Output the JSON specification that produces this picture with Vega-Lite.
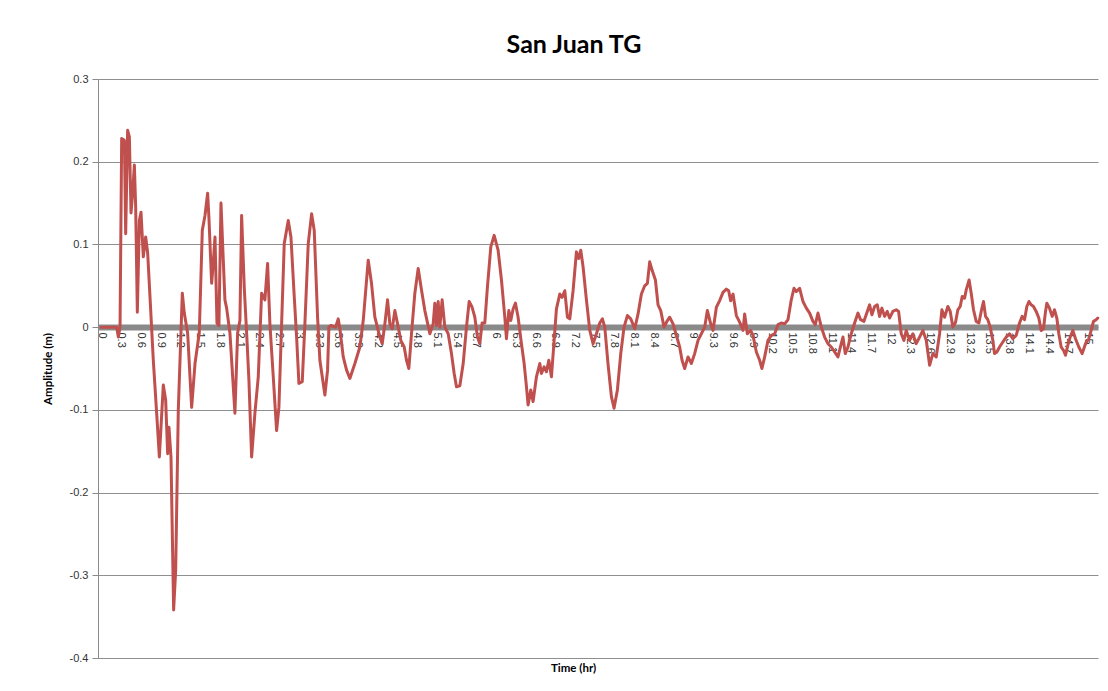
{
  "$schema": "https://vega.github.io/schema/vega-lite/v6.json",
  "width": 1000,
  "height": 579,
  "autosize": {"type": "none"},
  "padding": {"left": 98, "top": 79, "right": 10, "bottom": 33},
  "background": "white",
  "config": {"view": {"stroke": null}, "font": "Lato"},
  "title": {"text": "San Juan TG", "font": "Lato", "fontSize": 25, "fontWeight": "bold", "color": "#000000", "anchor": "middle", "baseline": "alphabetic", "dx": -24, "dy": 32, "offset": 27},
  "data": {"values": [
    {"t": 0, "v": 0}, {"t": 0.1, "v": 0}, {"t": 0.238, "v": 0}, {"t": 0.263, "v": -0.012}, {"t": 0.289, "v": 0.0},
    {"t": 0.314, "v": 0.228}, {"t": 0.355, "v": 0.226}, {"t": 0.375, "v": 0.113}, {"t": 0.405, "v": 0.238}, {"t": 0.431, "v": 0.23},
    {"t": 0.456, "v": 0.138}, {"t": 0.481, "v": 0.162}, {"t": 0.507, "v": 0.196}, {"t": 0.527, "v": 0.145}, {"t": 0.552, "v": 0.018},
    {"t": 0.583, "v": 0.129}, {"t": 0.608, "v": 0.139}, {"t": 0.643, "v": 0.085}, {"t": 0.679, "v": 0.109}, {"t": 0.709, "v": 0.09},
    {"t": 0.745, "v": 0.036}, {"t": 0.795, "v": -0.04}, {"t": 0.846, "v": -0.104}, {"t": 0.887, "v": -0.157}, {"t": 0.947, "v": -0.07},
    {"t": 0.983, "v": -0.088}, {"t": 1.013, "v": -0.153}, {"t": 1.033, "v": -0.121}, {"t": 1.064, "v": -0.157}, {"t": 1.104, "v": -0.342},
    {"t": 1.135, "v": -0.294}, {"t": 1.175, "v": -0.1}, {"t": 1.236, "v": 0.041}, {"t": 1.266, "v": 0.017}, {"t": 1.317, "v": -0.007},
    {"t": 1.378, "v": -0.097}, {"t": 1.429, "v": -0.044}, {"t": 1.494, "v": -0.007}, {"t": 1.54, "v": 0.117}, {"t": 1.581, "v": 0.135},
    {"t": 1.621, "v": 0.162}, {"t": 1.641, "v": 0.132}, {"t": 1.682, "v": 0.053}, {"t": 1.707, "v": 0.078}, {"t": 1.733, "v": 0.109},
    {"t": 1.763, "v": 0.005}, {"t": 1.793, "v": 0.002}, {"t": 1.824, "v": 0.15}, {"t": 1.859, "v": 0.081}, {"t": 1.884, "v": 0.033},
    {"t": 1.91, "v": 0.023}, {"t": 1.96, "v": -0.007}, {"t": 2.036, "v": -0.104}, {"t": 2.077, "v": -0.007}, {"t": 2.112, "v": 0.008},
    {"t": 2.138, "v": 0.135}, {"t": 2.178, "v": 0.048}, {"t": 2.214, "v": -0.007}, {"t": 2.249, "v": -0.064}, {"t": 2.29, "v": -0.157},
    {"t": 2.34, "v": -0.104}, {"t": 2.391, "v": -0.06}, {"t": 2.442, "v": 0.041}, {"t": 2.492, "v": 0.033}, {"t": 2.533, "v": 0.077},
    {"t": 2.568, "v": 0.004}, {"t": 2.619, "v": -0.06}, {"t": 2.67, "v": -0.125}, {"t": 2.705, "v": -0.097}, {"t": 2.746, "v": 0.004},
    {"t": 2.786, "v": 0.101}, {"t": 2.847, "v": 0.129}, {"t": 2.888, "v": 0.109}, {"t": 2.938, "v": 0.037}, {"t": 2.974, "v": -0.012},
    {"t": 3.009, "v": -0.068}, {"t": 3.06, "v": -0.066}, {"t": 3.1, "v": 0.004}, {"t": 3.151, "v": 0.101}, {"t": 3.202, "v": 0.137},
    {"t": 3.242, "v": 0.117}, {"t": 3.293, "v": 0.012}, {"t": 3.328, "v": -0.04}, {"t": 3.364, "v": -0.06}, {"t": 3.404, "v": -0.082},
    {"t": 3.445, "v": -0.052}, {"t": 3.465, "v": 0.0}, {"t": 3.495, "v": 0.002}, {"t": 3.566, "v": 0.0}, {"t": 3.607, "v": 0.01},
    {"t": 3.632, "v": -0.002}, {"t": 3.683, "v": -0.036}, {"t": 3.734, "v": -0.052}, {"t": 3.784, "v": -0.062}, {"t": 3.86, "v": -0.044},
    {"t": 3.936, "v": -0.024}, {"t": 3.987, "v": 0.008}, {"t": 4.063, "v": 0.081}, {"t": 4.113, "v": 0.053}, {"t": 4.164, "v": 0.012},
    {"t": 4.24, "v": -0.012}, {"t": 4.276, "v": -0.02}, {"t": 4.316, "v": 0.004}, {"t": 4.357, "v": 0.033}, {"t": 4.392, "v": 0.004},
    {"t": 4.428, "v": -0.002}, {"t": 4.468, "v": 0.02}, {"t": 4.509, "v": 0.004}, {"t": 4.559, "v": -0.016}, {"t": 4.61, "v": -0.024},
    {"t": 4.645, "v": -0.04}, {"t": 4.681, "v": -0.05}, {"t": 4.721, "v": -0.008}, {"t": 4.772, "v": 0.041}, {"t": 4.823, "v": 0.071},
    {"t": 4.873, "v": 0.045}, {"t": 4.924, "v": 0.02}, {"t": 5.0, "v": -0.008}, {"t": 5.051, "v": 0.004}, {"t": 5.076, "v": 0.029},
    {"t": 5.101, "v": 0.002}, {"t": 5.127, "v": 0.031}, {"t": 5.152, "v": 0.0}, {"t": 5.187, "v": 0.033}, {"t": 5.228, "v": 0.0},
    {"t": 5.279, "v": -0.008}, {"t": 5.329, "v": -0.032}, {"t": 5.37, "v": -0.056}, {"t": 5.405, "v": -0.072}, {"t": 5.456, "v": -0.071},
    {"t": 5.507, "v": -0.044}, {"t": 5.557, "v": 0.0}, {"t": 5.598, "v": 0.031}, {"t": 5.643, "v": 0.024}, {"t": 5.684, "v": 0.012},
    {"t": 5.724, "v": -0.012}, {"t": 5.76, "v": -0.02}, {"t": 5.795, "v": 0.005}, {"t": 5.836, "v": 0.005}, {"t": 5.876, "v": 0.049},
    {"t": 5.927, "v": 0.097}, {"t": 5.978, "v": 0.111}, {"t": 6.038, "v": 0.093}, {"t": 6.089, "v": 0.057}, {"t": 6.14, "v": 0.012},
    {"t": 6.165, "v": -0.014}, {"t": 6.201, "v": 0.02}, {"t": 6.231, "v": 0.008}, {"t": 6.266, "v": 0.022}, {"t": 6.302, "v": 0.029},
    {"t": 6.342, "v": 0.012}, {"t": 6.393, "v": -0.02}, {"t": 6.434, "v": -0.044}, {"t": 6.469, "v": -0.072}, {"t": 6.494, "v": -0.094},
    {"t": 6.535, "v": -0.076}, {"t": 6.57, "v": -0.09}, {"t": 6.621, "v": -0.06}, {"t": 6.672, "v": -0.044}, {"t": 6.697, "v": -0.056},
    {"t": 6.738, "v": -0.048}, {"t": 6.773, "v": -0.054}, {"t": 6.809, "v": -0.04}, {"t": 6.849, "v": -0.06}, {"t": 6.89, "v": -0.016},
    {"t": 6.925, "v": 0.022}, {"t": 6.976, "v": 0.04}, {"t": 7.011, "v": 0.036}, {"t": 7.052, "v": 0.044}, {"t": 7.092, "v": 0.012},
    {"t": 7.128, "v": 0.01}, {"t": 7.178, "v": 0.044}, {"t": 7.229, "v": 0.091}, {"t": 7.264, "v": 0.083}, {"t": 7.295, "v": 0.093},
    {"t": 7.33, "v": 0.073}, {"t": 7.381, "v": 0.033}, {"t": 7.432, "v": -0.004}, {"t": 7.482, "v": -0.02}, {"t": 7.533, "v": -0.008},
    {"t": 7.584, "v": 0.005}, {"t": 7.624, "v": 0.01}, {"t": 7.66, "v": 0.0}, {"t": 7.71, "v": -0.045}, {"t": 7.761, "v": -0.084},
    {"t": 7.801, "v": -0.098}, {"t": 7.852, "v": -0.076}, {"t": 7.903, "v": -0.032}, {"t": 7.953, "v": 0.0}, {"t": 8.004, "v": 0.014},
    {"t": 8.055, "v": 0.01}, {"t": 8.116, "v": -0.002}, {"t": 8.166, "v": 0.016}, {"t": 8.217, "v": 0.04}, {"t": 8.267, "v": 0.05},
    {"t": 8.308, "v": 0.053}, {"t": 8.343, "v": 0.079}, {"t": 8.379, "v": 0.069}, {"t": 8.43, "v": 0.057}, {"t": 8.47, "v": 0.027},
    {"t": 8.511, "v": 0.02}, {"t": 8.561, "v": 0.0}, {"t": 8.612, "v": 0.008}, {"t": 8.647, "v": 0.012}, {"t": 8.698, "v": 0.004},
    {"t": 8.749, "v": -0.01}, {"t": 8.799, "v": -0.024}, {"t": 8.835, "v": -0.04}, {"t": 8.875, "v": -0.05}, {"t": 8.926, "v": -0.036},
    {"t": 8.977, "v": -0.044}, {"t": 9.027, "v": -0.032}, {"t": 9.078, "v": -0.016}, {"t": 9.129, "v": -0.008}, {"t": 9.179, "v": 0.0},
    {"t": 9.22, "v": 0.02}, {"t": 9.271, "v": 0.004}, {"t": 9.306, "v": -0.004}, {"t": 9.357, "v": 0.024}, {"t": 9.407, "v": 0.032},
    {"t": 9.458, "v": 0.042}, {"t": 9.509, "v": 0.046}, {"t": 9.544, "v": 0.044}, {"t": 9.574, "v": 0.032}, {"t": 9.61, "v": 0.04},
    {"t": 9.661, "v": 0.014}, {"t": 9.711, "v": 0.006}, {"t": 9.762, "v": -0.004}, {"t": 9.787, "v": 0.016}, {"t": 9.828, "v": -0.008},
    {"t": 9.878, "v": -0.004}, {"t": 9.914, "v": -0.01}, {"t": 9.965, "v": -0.03}, {"t": 10.015, "v": -0.04}, {"t": 10.05, "v": -0.05},
    {"t": 10.091, "v": -0.036}, {"t": 10.142, "v": -0.016}, {"t": 10.193, "v": -0.01}, {"t": 10.243, "v": -0.008}, {"t": 10.294, "v": 0.003},
    {"t": 10.344, "v": 0.005}, {"t": 10.395, "v": 0.004}, {"t": 10.446, "v": 0.009}, {"t": 10.496, "v": 0.033}, {"t": 10.537, "v": 0.047},
    {"t": 10.572, "v": 0.043}, {"t": 10.623, "v": 0.047}, {"t": 10.674, "v": 0.031}, {"t": 10.725, "v": 0.023}, {"t": 10.775, "v": 0.017},
    {"t": 10.826, "v": 0.007}, {"t": 10.861, "v": 0.003}, {"t": 10.902, "v": 0.017}, {"t": 10.953, "v": 0.0}, {"t": 11.003, "v": -0.012},
    {"t": 11.054, "v": -0.02}, {"t": 11.104, "v": -0.024}, {"t": 11.155, "v": -0.03}, {"t": 11.206, "v": -0.036}, {"t": 11.256, "v": -0.02},
    {"t": 11.282, "v": -0.012}, {"t": 11.317, "v": -0.032}, {"t": 11.358, "v": -0.024}, {"t": 11.408, "v": -0.008}, {"t": 11.459, "v": 0.005},
    {"t": 11.51, "v": 0.017}, {"t": 11.55, "v": 0.009}, {"t": 11.601, "v": 0.007}, {"t": 11.652, "v": 0.019}, {"t": 11.687, "v": 0.027},
    {"t": 11.722, "v": 0.015}, {"t": 11.763, "v": 0.025}, {"t": 11.803, "v": 0.027}, {"t": 11.839, "v": 0.013}, {"t": 11.874, "v": 0.023},
    {"t": 11.915, "v": 0.013}, {"t": 11.955, "v": 0.019}, {"t": 11.991, "v": 0.011}, {"t": 12.041, "v": 0.019}, {"t": 12.092, "v": 0.021},
    {"t": 12.128, "v": 0.019}, {"t": 12.168, "v": -0.008}, {"t": 12.209, "v": -0.016}, {"t": 12.244, "v": -0.004}, {"t": 12.295, "v": -0.016},
    {"t": 12.345, "v": -0.008}, {"t": 12.396, "v": -0.02}, {"t": 12.447, "v": -0.012}, {"t": 12.497, "v": -0.004}, {"t": 12.548, "v": -0.016},
    {"t": 12.6, "v": -0.046}, {"t": 12.649, "v": -0.032}, {"t": 12.7, "v": -0.036}, {"t": 12.751, "v": -0.008}, {"t": 12.786, "v": 0.021},
    {"t": 12.827, "v": 0.012}, {"t": 12.877, "v": 0.025}, {"t": 12.913, "v": 0.019}, {"t": 12.953, "v": 0.0}, {"t": 12.994, "v": 0.006},
    {"t": 13.029, "v": 0.021}, {"t": 13.065, "v": 0.025}, {"t": 13.095, "v": 0.037}, {"t": 13.131, "v": 0.035}, {"t": 13.156, "v": 0.045},
    {"t": 13.2, "v": 0.057}, {"t": 13.232, "v": 0.041}, {"t": 13.267, "v": 0.021}, {"t": 13.308, "v": 0.007}, {"t": 13.349, "v": 0.005},
    {"t": 13.384, "v": 0.019}, {"t": 13.419, "v": 0.031}, {"t": 13.45, "v": 0.013}, {"t": 13.485, "v": 0.009}, {"t": 13.521, "v": 0.0},
    {"t": 13.561, "v": -0.016}, {"t": 13.587, "v": -0.032}, {"t": 13.622, "v": -0.03}, {"t": 13.663, "v": -0.024}, {"t": 13.713, "v": -0.018},
    {"t": 13.764, "v": -0.012}, {"t": 13.815, "v": -0.008}, {"t": 13.865, "v": -0.014}, {"t": 13.916, "v": -0.01}, {"t": 13.967, "v": 0.005},
    {"t": 14.007, "v": 0.013}, {"t": 14.043, "v": 0.009}, {"t": 14.078, "v": 0.025}, {"t": 14.11, "v": 0.031}, {"t": 14.144, "v": 0.027},
    {"t": 14.179, "v": 0.025}, {"t": 14.22, "v": 0.019}, {"t": 14.26, "v": 0.011}, {"t": 14.296, "v": -0.004}, {"t": 14.331, "v": -0.002},
    {"t": 14.362, "v": 0.019}, {"t": 14.382, "v": 0.029}, {"t": 14.422, "v": 0.023}, {"t": 14.463, "v": 0.013}, {"t": 14.498, "v": 0.021},
    {"t": 14.534, "v": 0.011}, {"t": 14.564, "v": -0.008}, {"t": 14.6, "v": -0.024}, {"t": 14.635, "v": -0.028}, {"t": 14.666, "v": -0.034},
    {"t": 14.701, "v": -0.022}, {"t": 14.737, "v": -0.012}, {"t": 14.777, "v": -0.004}, {"t": 14.818, "v": -0.014}, {"t": 14.868, "v": -0.024},
    {"t": 14.919, "v": -0.032}, {"t": 14.97, "v": -0.02}, {"t": 15.02, "v": -0.014}, {"t": 15.056, "v": -0.004}, {"t": 15.091, "v": 0.007},
    {"t": 15.132, "v": 0.009}, {"t": 15.157, "v": 0.011}
  ]},
  "resolve": {"axis": {"x": "independent"}},
  "layer": [
    {
      "mark": {"type": "line", "color": "#c0504d", "strokeWidth": 3, "strokeJoin": "round", "strokeCap": "round"},
      "encoding": {
        "x": {"field": "t", "type": "quantitative",
          "scale": {"domain": [-0.046, 15.16], "nice": false, "zero": false},
          "axis": {"orient": "bottom", "offset": -331, "title": null,
            "values": [0,0.3,0.6,0.9,1.2,1.5,1.8,2.1,2.4,2.7,3,3.3,3.6,3.9,4.2,4.5,4.8,5.1,5.4,5.7,6,6.3,6.6,6.9,7.2,7.5,7.8,8.1,8.4,8.7,9,9.3,9.6,9.9,10.2,10.5,10.8,11.1,11.4,11.7,12,12.3,12.6,12.9,13.2,13.5,13.8,14.1,14.4,14.7,15],
            "labelExpr": "'' + datum.value",
            "labelAngle": 90, "labelAlign": "left", "labelBaseline": "middle", "labelPadding": 5,
            "labelFont": "Liberation Sans", "labelFontSize": 11, "labelColor": "#333333",
            "labelOverlap": false, "labelFlush": false, "labelBound": false,
            "ticks": false, "grid": false,
            "domain": true, "domainColor": "#8a8a8a", "domainWidth": 6}
        },
        "y": {"field": "v", "type": "quantitative",
          "scale": {"domain": [-0.4, 0.3], "nice": false, "zero": false},
          "axis": {"title": "Amplitude (m)", "titleFont": "Lato", "titleFontSize": 11.5, "titleFontWeight": "bold", "titleColor": "#000000", "titlePadding": 16,
            "values": [-0.4,-0.3,-0.2,-0.1,0,0.1,0.2,0.3],
            "labelExpr": "'' + datum.value",
            "labelFont": "Liberation Sans", "labelFontSize": 11, "labelColor": "#333333", "labelPadding": 4,
            "ticks": true, "tickSize": 6, "tickColor": "#8a8a8a",
            "domain": true, "domainColor": "#8a8a8a", "domainWidth": 1,
            "grid": true, "gridColor": "#8f8f8f", "gridWidth": 1}
        }
      }
    },
    {
      "mark": {"type": "point", "opacity": 0},
      "encoding": {
        "x": {"field": "t", "type": "quantitative",
          "axis": {"orient": "bottom", "offset": 0, "title": "Time (hr)", "titleFont": "Lato", "titleFontSize": 11.5, "titleFontWeight": "bold", "titleColor": "#000000",
            "titleX": 475, "titlePadding": 4,
            "labels": false, "ticks": false, "domain": false, "grid": false}
        },
        "y": {"field": "v", "type": "quantitative"}
      }
    }
  ]
}
